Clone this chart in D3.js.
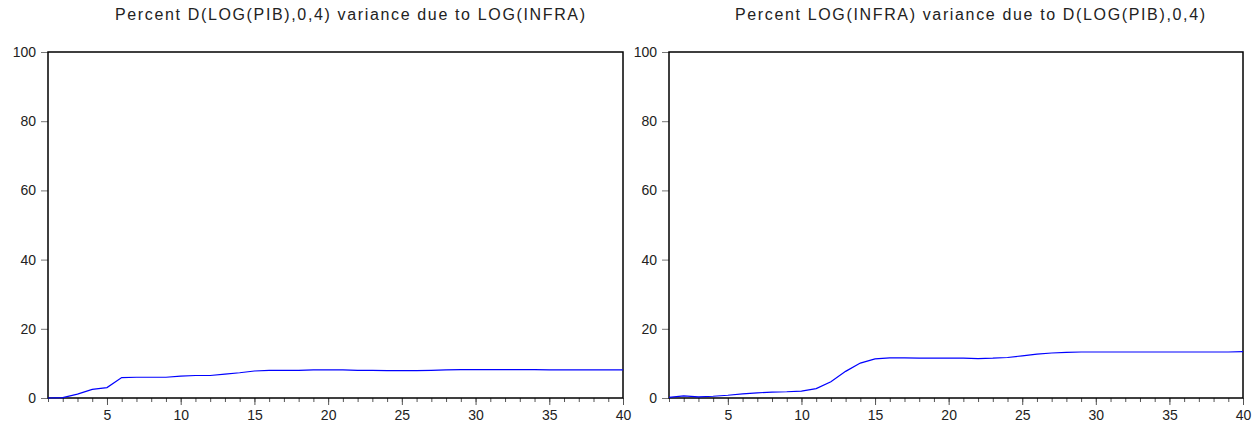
<!DOCTYPE html>
<html>
<head>
<meta charset="utf-8">
<script src="https://cdn.jsdelivr.net/npm/d3@7"></script>
<style>
  body { margin: 0; background: #fff; }
  text { font-family: "Liberation Sans", Arial, sans-serif; }
</style>
</head>
<body>
<script>
// forecast horizons (periods)
let periods = [1,2,3,4,5,6,7,8,9,10,11,12,13,14,15,16,17,18,19,20,
               21,22,23,24,25,26,27,28,29,30,31,32,33,34,35,36,37,38,39,40];

// percent of D(LOG(PIB),0,4) variance due to LOG(INFRA)
let pibDueInfra = [0.0,0.1,1.1,2.5,3.0,5.9,6.0,6.0,6.0,6.3,
                   6.5,6.5,6.9,7.3,7.8,8.0,8.0,8.0,8.1,8.1,
                   8.1,8.0,8.0,7.9,7.9,7.9,8.0,8.1,8.2,8.2,
                   8.2,8.2,8.2,8.2,8.1,8.1,8.1,8.1,8.1,8.1];

// percent of LOG(INFRA) variance due to D(LOG(PIB),0,4)
let infraDuePib = [0.2,0.6,0.3,0.5,0.8,1.2,1.5,1.7,1.8,2.0,
                   2.7,4.7,7.7,10.1,11.3,11.6,11.6,11.5,11.5,11.5,
                   11.5,11.4,11.5,11.7,12.2,12.7,13.0,13.2,13.3,13.3,
                   13.3,13.3,13.3,13.3,13.3,13.3,13.3,13.3,13.3,13.4];

let titles = ["Percent D(LOG(PIB),0,4) variance due to LOG(INFRA)",
              "Percent LOG(INFRA) variance due to D(LOG(PIB),0,4)"];
let yTicks = [0, 20, 40, 60, 80, 100];
let xMajor = [5, 10, 15, 20, 25, 30, 35, 40];

let width = 1255, height = 428;
let svg = d3.select("body").append("svg")
    .attr("width", width).attr("height", height);
svg.append("rect").attr("width", width).attr("height", height).attr("fill", "#fff");

// panel placement
let panels = [
  { left: 48, right: 623, titleX: 350, values: pibDueInfra, title: titles[0] },
  { left: 669, right: 1243, titleX: 970, values: infraDuePib, title: titles[1] }
];
let plotTop = 52, plotBottom = 398;

panels.forEach((p) => {
  let x = d3.scaleLinear().domain([1, 40]).range([p.left, p.right]);
  let y = d3.scaleLinear().domain([0, 100]).range([plotBottom, plotTop]);

  let g = svg.append("g");

  // title (EViews style, slightly spread out)
  g.append("text")
    .attr("x", p.titleX).attr("y", 20)
    .attr("text-anchor", "middle")
    .attr("font-size", 16).attr("fill", "#222")
    .attr("textLength", 470).attr("lengthAdjust", "spacing")
    .text(p.title);

  // minor x ticks every period
  let xMinor = d3.axisBottom(x).tickValues(periods).tickSize(4).tickFormat("");
  g.append("g").attr("transform", "translate(0," + plotBottom + ")").call(xMinor)
    .call((a) => a.select(".domain").remove())
    .selectAll("line").attr("stroke", "#555");

  // major x ticks with labels
  let xAxis = d3.axisBottom(x).tickValues(xMajor).tickSize(7).tickPadding(5);
  g.append("g").attr("transform", "translate(0," + plotBottom + ")").call(xAxis)
    .call((a) => a.select(".domain").remove())
    .call((a) => a.selectAll("line").attr("stroke", "#555"))
    .call((a) => a.selectAll("text").attr("font-size", 14).attr("fill", "#222")
      .attr("font-family", "Liberation Sans, Arial, sans-serif"));

  // y axis
  let yAxis = d3.axisLeft(y).tickValues(yTicks).tickSize(7).tickPadding(5);
  g.append("g").attr("transform", "translate(" + p.left + ",0)").call(yAxis)
    .call((a) => a.select(".domain").remove())
    .call((a) => a.selectAll("line").attr("stroke", "#777"))
    .call((a) => a.selectAll("text").attr("font-size", 14).attr("fill", "#222")
      .attr("font-family", "Liberation Sans, Arial, sans-serif"));

  // frame
  g.append("rect")
    .attr("x", p.left).attr("y", plotTop)
    .attr("width", p.right - p.left).attr("height", plotBottom - plotTop)
    .attr("fill", "none").attr("stroke", "#000").attr("stroke-width", 1.5);

  // series line
  let line = d3.line().x((d, i) => x(periods[i])).y((d) => y(d));
  g.append("path")
    .attr("d", line(p.values))
    .attr("fill", "none").attr("stroke", "#0000ff").attr("stroke-width", 1.2);
});
</script>
</body>
</html>
